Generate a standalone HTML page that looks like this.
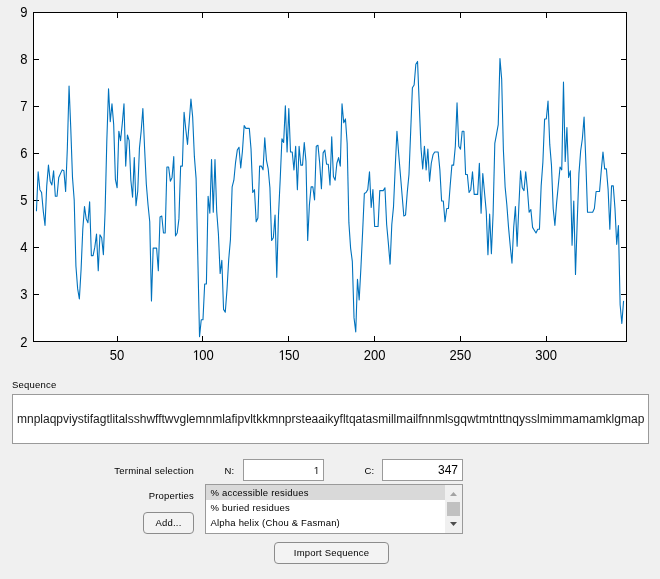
<!DOCTYPE html>
<html><head><meta charset="utf-8"><style>
html,body{margin:0;padding:0;}
body{width:660px;height:579px;background:#f0f0f0;overflow:hidden;position:relative;font-family:"Liberation Sans",sans-serif;}
svg{position:absolute;left:0;top:0;will-change:transform;}
text{font-family:"Liberation Sans",sans-serif;}
</style></head><body>
<svg width="660" height="579" viewBox="0 0 660 579">
<rect x="33.5" y="12.5" width="593" height="329" fill="#fff" stroke="#000" stroke-width="1"/>
<g stroke="#000" stroke-width="1" fill="none"><path d="M117.5,13 V18 M117.5,341 V336"/><path d="M202.5,13 V18 M202.5,341 V336"/><path d="M288.5,13 V18 M288.5,341 V336"/><path d="M374.5,13 V18 M374.5,341 V336"/><path d="M460.5,13 V18 M460.5,341 V336"/><path d="M546.5,13 V18 M546.5,341 V336"/><path d="M34,294.5 H39 M626,294.5 H621"/><path d="M34,247.5 H39 M626,247.5 H621"/><path d="M34,200.5 H39 M626,200.5 H621"/><path d="M34,153.5 H39 M626,153.5 H621"/><path d="M34,106.5 H39 M626,106.5 H621"/><path d="M34,59.5 H39 M626,59.5 H621"/></g>
<path d="M36.43,211.34 L38.15,171.74 L39.87,189.66 L41.58,192.49 L43.30,211.34 L45.02,225.49 L46.73,185.89 L48.45,165.14 L50.17,181.17 L51.88,184.94 L53.60,170.80 L55.32,196.26 L57.03,196.26 L58.75,177.40 L60.47,173.63 L62.18,169.86 L63.90,170.80 L65.62,191.54 L67.34,148.17 L69.05,85.94 L70.77,128.37 L72.49,177.40 L74.20,200.03 L75.92,266.03 L77.64,288.66 L79.35,299.03 L81.07,269.80 L82.79,229.26 L84.50,206.63 L86.22,218.89 L87.94,222.66 L89.65,201.91 L91.37,255.66 L93.09,255.66 L94.80,247.17 L96.52,233.97 L98.24,270.74 L99.95,234.91 L101.67,237.74 L103.39,254.71 L105.10,211.34 L106.82,140.63 L108.54,88.77 L110.25,121.77 L111.97,103.86 L113.69,124.60 L115.40,179.29 L117.12,187.77 L118.84,131.20 L120.55,140.63 L122.27,123.66 L123.99,103.86 L125.71,166.09 L127.42,134.97 L129.14,140.63 L130.86,180.23 L132.57,197.20 L134.29,157.60 L136.01,205.69 L137.72,191.54 L139.44,148.17 L141.16,131.20 L142.87,108.57 L144.59,148.17 L146.31,184.00 L148.02,204.74 L149.74,221.71 L151.46,300.91 L153.17,248.11 L154.89,248.11 L156.61,248.11 L158.32,270.74 L160.04,217.00 L161.76,216.06 L163.47,233.03 L165.19,233.03 L166.91,167.03 L168.62,167.03 L170.34,181.17 L172.06,177.40 L173.77,156.66 L175.49,235.86 L177.21,233.03 L178.92,218.89 L180.64,166.09 L182.36,166.09 L184.08,112.34 L185.79,129.31 L187.51,144.40 L189.23,121.77 L190.94,99.14 L192.66,117.06 L194.38,156.66 L196.09,178.34 L197.81,257.54 L199.53,336.74 L201.24,319.77 L202.96,319.77 L204.68,283.94 L206.39,283.94 L208.11,196.26 L209.83,213.23 L211.54,159.49 L213.26,212.29 L214.98,159.49 L216.69,211.34 L218.41,233.97 L220.13,273.57 L221.84,260.37 L223.56,309.40 L225.28,312.23 L226.99,289.60 L228.71,259.43 L230.43,239.63 L232.14,186.83 L233.86,180.23 L235.58,162.31 L237.29,150.06 L239.01,147.23 L240.73,167.97 L242.45,151.00 L244.16,125.54 L245.88,128.37 L247.60,128.37 L249.31,128.37 L251.03,149.11 L252.75,192.49 L254.46,189.66 L256.18,221.71 L257.90,217.94 L259.61,166.09 L261.33,166.09 L263.05,169.86 L264.76,137.80 L266.48,160.43 L268.20,168.91 L269.91,187.77 L271.63,240.57 L273.35,237.74 L275.06,215.11 L276.78,277.34 L278.50,215.11 L280.21,179.29 L281.93,138.74 L283.65,142.51 L285.36,105.74 L287.08,151.94 L288.80,108.57 L290.51,151.94 L292.23,151.94 L293.95,169.86 L295.66,146.29 L297.38,189.66 L299.10,146.29 L300.82,165.14 L302.53,165.14 L304.25,142.51 L305.97,161.37 L307.68,240.57 L309.40,204.74 L311.12,186.83 L312.83,186.83 L314.55,200.03 L316.27,146.29 L317.98,145.34 L319.70,163.26 L321.42,188.71 L323.13,152.89 L324.85,150.06 L326.57,164.20 L328.28,164.20 L330.00,184.94 L331.72,136.86 L333.43,176.46 L335.15,180.23 L336.87,163.26 L338.58,157.60 L340.30,166.09 L342.02,103.86 L343.73,122.71 L345.45,118.94 L347.17,143.46 L348.88,222.66 L350.60,248.11 L352.32,261.31 L354.03,317.89 L355.75,332.03 L357.47,279.23 L359.18,299.97 L360.90,267.91 L362.62,232.09 L364.34,193.43 L366.05,192.49 L367.77,189.66 L369.49,171.74 L371.20,207.57 L372.92,189.66 L374.64,226.43 L376.35,226.43 L378.07,226.43 L379.79,190.60 L381.50,190.60 L383.22,190.60 L384.94,187.77 L386.65,224.54 L388.37,243.40 L390.09,264.14 L391.80,224.54 L393.52,206.63 L395.24,167.03 L396.95,131.20 L398.67,153.83 L400.39,174.57 L402.10,195.31 L403.82,216.06 L405.54,215.11 L407.25,192.49 L408.97,174.57 L410.69,131.20 L412.40,87.83 L414.12,85.00 L415.84,64.26 L417.55,61.43 L419.27,104.80 L420.99,148.17 L422.71,168.91 L424.42,146.29 L426.14,169.86 L427.86,149.11 L429.57,181.17 L431.29,163.26 L433.01,154.77 L434.72,151.94 L436.44,151.94 L438.16,151.94 L439.87,169.86 L441.59,200.97 L443.31,200.97 L445.02,221.71 L446.74,208.51 L448.46,208.51 L450.17,185.89 L451.89,165.14 L453.61,165.14 L455.32,146.29 L457.04,102.91 L458.76,146.29 L460.47,149.11 L462.19,131.20 L463.91,131.20 L465.62,174.57 L467.34,174.57 L469.06,192.49 L470.77,189.66 L472.49,171.74 L474.21,194.37 L475.92,194.37 L477.64,194.37 L479.36,163.26 L481.08,213.23 L482.79,173.63 L484.51,192.49 L486.23,211.34 L487.94,254.71 L489.66,214.17 L491.38,253.77 L493.09,214.17 L494.81,143.46 L496.53,134.03 L498.24,124.60 L499.96,58.60 L501.68,79.34 L503.39,150.06 L505.11,186.83 L506.83,204.74 L508.54,227.37 L510.26,246.23 L511.98,263.20 L513.69,227.37 L515.41,206.63 L517.13,246.23 L518.84,206.63 L520.56,170.80 L522.28,187.77 L523.99,190.60 L525.71,171.74 L527.43,189.66 L529.14,212.29 L530.86,209.46 L532.58,227.37 L534.29,230.20 L536.01,233.03 L537.73,229.26 L539.45,229.26 L541.16,185.89 L542.88,162.31 L544.60,118.94 L546.31,118.94 L548.03,101.03 L549.75,144.40 L551.46,165.14 L553.18,208.51 L554.90,225.49 L556.61,202.86 L558.33,184.94 L560.05,167.03 L561.76,169.86 L563.48,82.17 L565.20,161.37 L566.91,127.43 L568.63,177.40 L570.35,170.80 L572.06,245.29 L573.78,200.97 L575.50,274.51 L577.21,221.71 L578.93,173.63 L580.65,151.00 L582.36,138.74 L584.08,117.06 L585.80,160.43 L587.51,212.29 L589.23,212.29 L590.95,212.29 L592.66,212.29 L594.38,208.51 L596.10,191.54 L597.82,191.54 L599.53,191.54 L601.25,170.80 L602.97,151.94 L604.68,168.91 L606.40,168.91 L608.12,189.66 L609.83,229.26 L611.55,185.89 L613.27,185.89 L614.98,208.51 L616.70,244.34 L618.42,225.49 L620.13,304.69 L621.85,323.54 L623.57,300.91" fill="none" stroke="#0072bd" stroke-width="1.1" stroke-linejoin="round"/>
<g font-size="14" fill="#000"><text transform="translate(109.78,360) scale(0.93,1)" x="0" y="0">5</text><text transform="translate(117.02,360) scale(0.93,1)" x="0" y="0">0</text><path d="M195.97,360.00 L195.97,351.54 L193.95,353.10 L193.95,351.93 L196.07,350.37 L197.12,350.37 L197.12,360.00 Z" fill="#000"/><text transform="translate(199.24,360) scale(0.93,1)" x="0" y="0">0</text><text transform="translate(206.48,360) scale(0.93,1)" x="0" y="0">0</text><path d="M281.81,360.00 L281.81,351.54 L279.79,353.10 L279.79,351.93 L281.91,350.37 L282.96,350.37 L282.96,360.00 Z" fill="#000"/><text transform="translate(285.08,360) scale(0.93,1)" x="0" y="0">5</text><text transform="translate(292.32,360) scale(0.93,1)" x="0" y="0">0</text><text transform="translate(363.67,360) scale(0.93,1)" x="0" y="0">2</text><text transform="translate(370.92,360) scale(0.93,1)" x="0" y="0">0</text><text transform="translate(378.16,360) scale(0.93,1)" x="0" y="0">0</text><text transform="translate(449.51,360) scale(0.93,1)" x="0" y="0">2</text><text transform="translate(456.75,360) scale(0.93,1)" x="0" y="0">5</text><text transform="translate(463.99,360) scale(0.93,1)" x="0" y="0">0</text><text transform="translate(535.35,360) scale(0.93,1)" x="0" y="0">3</text><text transform="translate(542.59,360) scale(0.93,1)" x="0" y="0">0</text><text transform="translate(549.83,360) scale(0.93,1)" x="0" y="0">0</text><text transform="translate(20.36,347) scale(0.93,1)" x="0" y="0">2</text><text transform="translate(20.36,299) scale(0.93,1)" x="0" y="0">3</text><text transform="translate(20.36,252) scale(0.93,1)" x="0" y="0">4</text><text transform="translate(20.36,205) scale(0.93,1)" x="0" y="0">5</text><text transform="translate(20.36,158) scale(0.93,1)" x="0" y="0">6</text><text transform="translate(20.36,111) scale(0.93,1)" x="0" y="0">7</text><text transform="translate(20.36,64) scale(0.93,1)" x="0" y="0">8</text><text transform="translate(20.36,17) scale(0.93,1)" x="0" y="0">9</text></g>

<text x="12" y="388" font-size="9.5" letter-spacing="0.2" fill="#000">Sequence</text>
<rect x="12.5" y="394.5" width="636" height="49" fill="#fff" stroke="#9a9a9a"/>
<text x="17" y="423" font-size="12" fill="#1a1a1a">mnplaqpviystifagtlitalsshwfftwvglemnmlafipvltkkmnprsteaaikyfltqatasmillmailfnnmlsgqwtmtnttnqysslmimmamamklgmap</text>

<text x="194" y="474" font-size="9.5" letter-spacing="0.2" fill="#000" text-anchor="end">Terminal selection</text>
<text x="224.5" y="474" font-size="9.5" letter-spacing="0.2" fill="#000">N:</text>
<rect x="243.5" y="459.5" width="80" height="21" fill="#fff" stroke="#9a9a9a"/>
<path d="M316.36,474.00 L316.36,467.84 L314.78,468.97 L314.78,468.12 L316.44,466.98 L317.27,466.98 L317.27,474.00 Z" fill="#1a1a1a"/>
<text x="364.5" y="474" font-size="9.5" letter-spacing="0.2" fill="#000">C:</text>
<rect x="382.5" y="459.5" width="80" height="21" fill="#fff" stroke="#9a9a9a"/>
<text x="458" y="474" font-size="12" fill="#000" text-anchor="end">347</text>

<text x="194" y="499" font-size="9.5" letter-spacing="0.2" fill="#000" text-anchor="end">Properties</text>
<rect x="205.5" y="484.5" width="257" height="49" fill="#fff" stroke="#9a9a9a"/>
<rect x="206" y="485" width="239" height="15" fill="#d9d9d9"/>
<g font-size="9.5" letter-spacing="0.2" fill="#000">
<text x="210.5" y="496">% accessible residues</text>
<text x="210.5" y="511">% buried residues</text>
<text x="210.5" y="526">Alpha helix (Chou &amp; Fasman)</text>
</g>
<rect x="445" y="485" width="17" height="48" fill="#f0f0f0"/>
<path d="M450,496 L453.5,492 L457,496 Z" fill="#a3a3a3"/>
<rect x="447" y="502" width="13" height="14" fill="#c1c1c1"/>
<path d="M450,522 L457,522 L453.5,526 Z" fill="#4d4d4d"/>

<rect x="143.5" y="512.5" width="50" height="21" rx="3.5" fill="#f3f3f3" stroke="#8c8c8c"/>
<text x="168.5" y="526" font-size="9.5" letter-spacing="0.2" fill="#000" text-anchor="middle">Add...</text>
<rect x="274.5" y="542.5" width="114" height="21" rx="3.5" fill="#f3f3f3" stroke="#8c8c8c"/>
<text x="331.5" y="556" font-size="9.5" letter-spacing="0.2" fill="#000" text-anchor="middle">Import Sequence</text>
</svg>
</body></html>
